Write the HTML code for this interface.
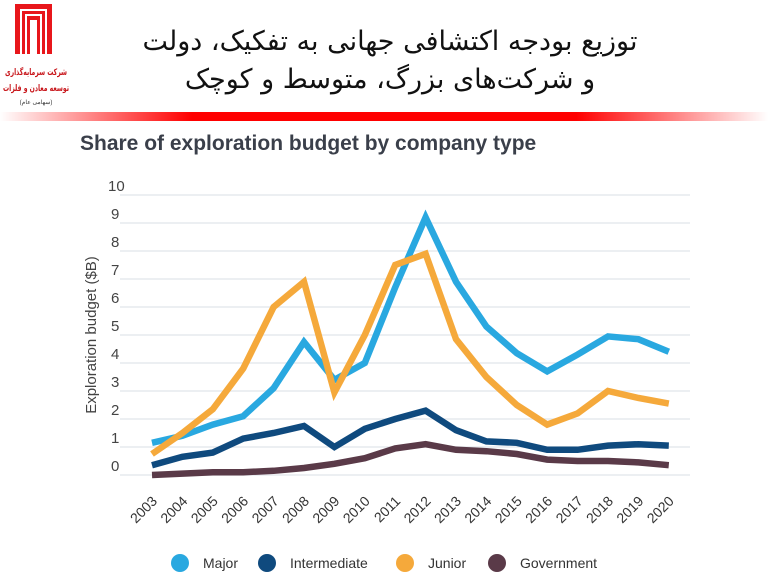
<!DOCTYPE html>
<html><head><meta charset="utf-8"><style>
html,body{margin:0;padding:0;background:#fff;width:768px;height:583px;overflow:hidden}
svg{display:block}
</style></head><body>
<svg id="s" width="768" height="583" xmlns="http://www.w3.org/2000/svg" font-family="Liberation Sans, sans-serif">
<defs><linearGradient id="g" x1="0" x2="1"><stop offset="0" stop-color="#fff"/><stop offset="0.25" stop-color="#f00"/><stop offset="0.75" stop-color="#f00"/><stop offset="1" stop-color="#fff"/></linearGradient></defs>
<rect x="0" y="112" width="768" height="9" fill="url(#g)"/>
<g fill="none" stroke="#e8161b">
<rect x="15" y="4" width="37" height="50" fill="#e8161b" stroke="none"/>
<path d="M21 54 V10 H46 V54" stroke="#fff" stroke-width="2"/>
<path d="M26 54 V15 H41 V54" stroke="#fff" stroke-width="2"/>
<rect x="30" y="20" width="7" height="34" fill="#fff" stroke="none"/>
</g>
<text x="36" y="75" text-anchor="middle" font-size="9" font-weight="bold" fill="#c8161b" font-family="DejaVu Sans, sans-serif" textLength="62" lengthAdjust="spacingAndGlyphs">شرکت سرمایه‌گذاری</text>
<text x="36" y="91" text-anchor="middle" font-size="9" font-weight="bold" fill="#c8161b" font-family="DejaVu Sans, sans-serif" textLength="66" lengthAdjust="spacingAndGlyphs">توسعه معادن و فلزات</text>
<text x="36" y="104" text-anchor="middle" font-size="6" fill="#333">(سهامی عام)</text>
<text x="390" y="50" text-anchor="middle" font-size="27" fill="#111" font-family="DejaVu Sans, sans-serif" direction="rtl">توزیع بودجه اکتشافی جهانی به تفکیک، دولت</text>
<text x="390" y="88" text-anchor="middle" font-size="27" fill="#111" font-family="DejaVu Sans, sans-serif" direction="rtl">و شرکت‌های بزرگ، متوسط و کوچک</text>
<text x="80" y="150" font-size="21" font-weight="bold" fill="#3a3f4a">Share of exploration budget by company type</text>
<g id="grid"></g>
<text transform="translate(96,335) rotate(-90)" text-anchor="middle" font-size="15" fill="#444">Exploration budget ($B)</text>
<g id="lines"></g>
<g font-size="14" fill="#333">
<circle cx="180" cy="563" r="9" fill="#29a8e0"/><text x="203" y="568">Major</text>
<circle cx="267" cy="563" r="9" fill="#0f4a7e"/><text x="290" y="568">Intermediate</text>
<circle cx="405" cy="563" r="9" fill="#f5a93b"/><text x="428" y="568">Junior</text>
<circle cx="497" cy="563" r="9" fill="#5a3a48"/><text x="520" y="568">Government</text>
</g>
</svg>
<script>
var NS="http://www.w3.org/2000/svg";
function el(p,t,a,txt){var e=document.createElementNS(NS,t);for(var k in a)e.setAttribute(k,a[k]);if(txt!=null)e.textContent=txt;p.appendChild(e);return e;}
var X=function(i){return 152+i*30.4},Y=function(v){return 475-28*v};
var g=document.getElementById('grid');
for(var v=0;v<=10;v++){el(g,'line',{x1:120,x2:690,y1:Y(v),y2:Y(v),stroke:'#e6eaee','stroke-width':1.5});
el(g,'text',{x:v==10?108:111,y:Y(v)-4,'font-size':15,fill:'#444'},v);}
for(var i=0;i<18;i++){el(g,'text',{transform:'translate('+(X(i)+6)+',502) rotate(-45)','text-anchor':'end','font-size':14,fill:'#333'},2003+i);}
var S=[
["#5a3a48",[0.0,0.05,0.1,0.1,0.15,0.25,0.4,0.6,0.95,1.1,0.9,0.85,0.75,0.55,0.5,0.5,0.45,0.35]],
["#0f4a7e",[0.35,0.65,0.8,1.3,1.5,1.75,1.0,1.65,2.0,2.3,1.6,1.2,1.15,0.9,0.9,1.05,1.1,1.05]],
["#29a8e0",[1.15,1.4,1.8,2.1,3.1,4.75,3.4,4.0,6.7,9.2,6.9,5.3,4.35,3.7,4.3,4.95,4.85,4.4]],
["#f5a93b",[0.75,1.5,2.35,3.8,6.0,6.9,2.95,5.0,7.5,7.9,4.85,3.5,2.5,1.8,2.2,3.0,2.75,2.55]]];
var L=document.getElementById('lines');
S.forEach(function(s){el(L,'polyline',{points:s[1].map(function(v,i){return X(i)+','+Y(v)}).join(' '),fill:'none',stroke:s[0],'stroke-width':6.5,'stroke-linejoin':'miter'});});
</script>
</body></html>
